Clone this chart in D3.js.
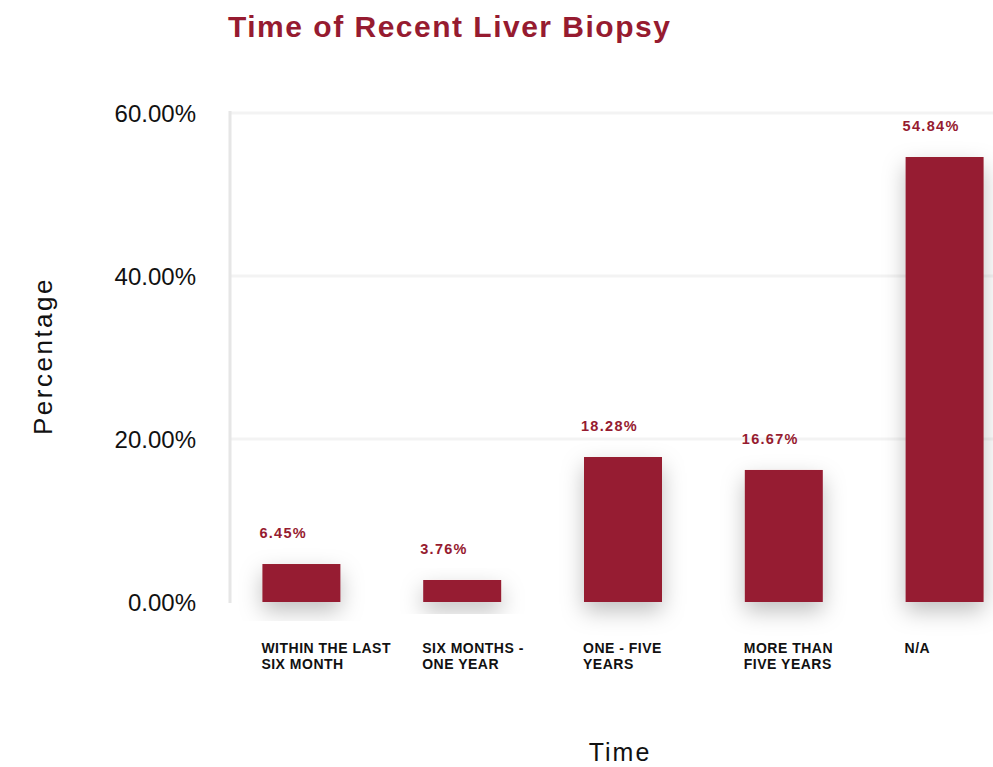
<!DOCTYPE html>
<html>
<head>
<meta charset="utf-8">
<script src="https://cdn.jsdelivr.net/npm/d3@7"></script>
<style>
  html, body { margin: 0; padding: 0; background: #ffffff; }
  svg { display: block; }
</style>
</head>
<body>
<div id="chart"></div>
<script>
// ---- data ----
const categories = [
  ["WITHIN THE LAST", "SIX MONTH"],
  ["SIX MONTHS -", "ONE YEAR"],
  ["ONE - FIVE", "YEARS"],
  ["MORE THAN", "FIVE YEARS"],
  ["N/A"]
];
const barValues = [4.66, 2.70, 17.79, 16.20, 54.60];
const valueLabels = ["6.45%", "3.76%", "18.28%", "16.67%", "54.84%"];
const yTicks = [0, 20, 40, 60];
const titleText = "Time of Recent Liver Biopsy";
const xTitle = "Time";
const yTitle = "Percentage";

// ---- layout ----
const W = 993, H = 767;
const red = "#961b30";
const svg = d3.select("#chart").append("svg").attr("width", W).attr("height", H);

const defs = svg.append("defs");
const f = defs.append("filter").attr("id", "shadow")
  .attr("x", "-50%").attr("y", "-50%").attr("width", "200%").attr("height", "200%");
f.append("feDropShadow").attr("dx", 0).attr("dy", 9).attr("stdDeviation", 11)
  .attr("flood-color", "#000").attr("flood-opacity", 0.25);

const x = d3.scaleBand().domain(d3.range(categories.length))
  .range([221, 1025]).paddingInner(0.515).paddingOuter(0.2575);
const y = d3.scaleLinear().domain([0, 60]).range([602, 113]);

// gridlines
svg.append("g").selectAll("line").data(yTicks.filter(d => d > 0)).join("line")
  .attr("x1", 230).attr("x2", W)
  .attr("y1", d => y(d)).attr("y2", d => y(d))
  .attr("stroke", "#f3f3f3").attr("stroke-width", 3);

// y axis
const yAxis = d3.axisLeft(y).tickValues(yTicks).tickSize(0).tickPadding(0)
  .tickFormat(d => d3.format(".2f")(d) + "%");
const gy = svg.append("g").attr("transform", "translate(196,0)").call(yAxis);
gy.select(".domain").remove();
gy.selectAll("text").attr("font-family", "'Liberation Sans', Arial, sans-serif")
  .attr("font-size", 24).attr("fill", "#111").attr("dy", "0.35em");

svg.append("line").attr("x1", 230).attr("x2", 230).attr("y1", 111).attr("y2", 603)
  .attr("stroke", "#e6e6e6").attr("stroke-width", 3);

// bars
svg.append("g").selectAll("rect").data(barValues).join("rect")
  .attr("x", (d, i) => x(i)).attr("width", x.bandwidth())
  .attr("y", d => y(d)).attr("height", d => y(0) - y(d))
  .attr("fill", red).attr("filter", "url(#shadow)");

// value labels
svg.append("g").selectAll("text").data(barValues).join("text")
  .attr("x", (d, i) => x(i) - 3).attr("y", d => y(d) - 26)
  .attr("font-family", "'Liberation Sans', Arial, sans-serif")
  .attr("font-weight", "bold").attr("font-size", 14.5).attr("letter-spacing", 1.3)
  .attr("fill", red).text((d, i) => valueLabels[i]);

// category labels
const cat = svg.append("g").selectAll("text").data(categories).join("text")
  .attr("x", (d, i) => x(i) - 1).attr("y", 653)
  .attr("font-family", "'Liberation Sans', Arial, sans-serif")
  .attr("font-weight", "bold").attr("font-size", 14).attr("letter-spacing", 0.5)
  .attr("fill", "#111");
cat.selectAll("tspan").data(d => d).join("tspan")
  .attr("x", function() { return d3.select(this.parentNode).attr("x"); })
  .attr("dy", (d, j) => j === 0 ? 0 : 15.5).text(d => d);

// titles
svg.append("text").attr("x", 228).attr("y", 37)
  .attr("font-family", "'Liberation Sans', Arial, sans-serif")
  .attr("font-weight", "bold").attr("font-size", 30).attr("letter-spacing", 1.5)
  .attr("fill", red).text(titleText);

svg.append("text").attr("x", 620).attr("y", 761).attr("text-anchor", "middle")
  .attr("font-family", "'Liberation Sans', Arial, sans-serif")
  .attr("font-size", 25).attr("letter-spacing", 2).attr("fill", "#111").text(xTitle);

svg.append("text").attr("transform", "translate(52,356) rotate(-90)")
  .attr("text-anchor", "middle")
  .attr("font-family", "'Liberation Sans', Arial, sans-serif")
  .attr("font-size", 26).attr("letter-spacing", 2.5).attr("fill", "#111").text(yTitle);
</script>
</body>
</html>
